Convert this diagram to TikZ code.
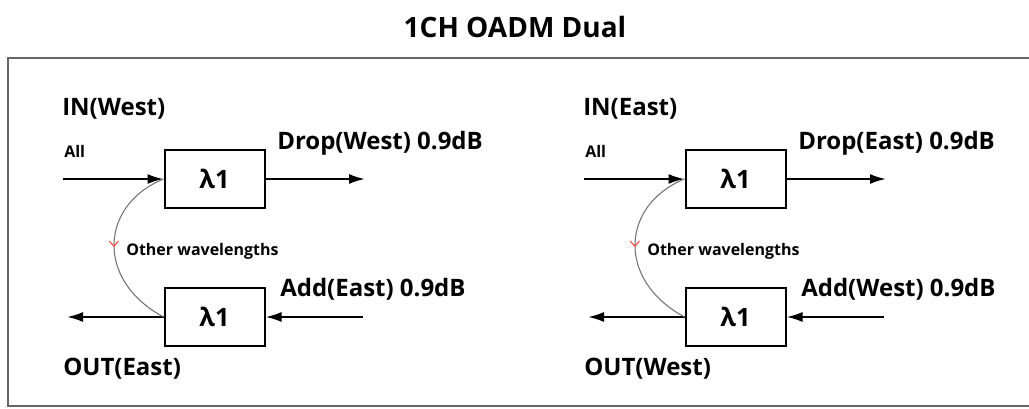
\documentclass[tikz,border=0pt]{standalone}
\usepackage{fontspec}
\setmainfont{Open Sans}
\usetikzlibrary{arrows.meta,decorations.markings}

\tikzset{
  fiber/.style={line width=1.5pt,-{Latex[length=12pt,width=7.5pt]}},
  filterbox/.style={draw,line width=1.5pt,minimum width=75pt,minimum height=44pt,
    inner sep=0pt,font=\fontsize{19}{21}\selectfont\bfseries},
  biglabel/.style={anchor=west,inner sep=0pt,font=\fontsize{18}{20}\selectfont\bfseries},
  smalllabel/.style={anchor=west,inner sep=0pt,font=\fontsize{12}{14}\selectfont\bfseries},
  bypass/.style={gray!90!black,line width=0.8pt,postaction={decorate},
    decoration={markings,mark=at position 0.5 with
      {\arrow{Straight Barb[color=red!70,length=4pt,width=7pt]}}}}
}

\begin{document}
\begin{tikzpicture}[x=0.75pt,y=-0.75pt]
  \useasboundingbox (0,0) rectangle (1029,409);
  % title and frame
  \node[font=\fontsize{21}{24}\selectfont\bfseries] (title) at (515,27) {1CH OADM Dual};
  \draw[gray!80!black,line width=1.8pt] (1035,58) -- (8,58) -- (8,406) -- (1035,406);
  % two mirrored panels
  \foreach \dx/\self/\peer in {0/West/East,521/East/West}{
    \begin{scope}[shift={(\dx,0)}]
      \node[filterbox] (demux\self) at (214.5,179) {λ1};
      \node[filterbox] (mux\self) at (214.5,317) {λ1};
      \coordinate (in\self) at (63,179);
      \coordinate (drop\self) at (365,179);
      \coordinate (out\self) at (67,317);
      \coordinate (add\self) at (363,317);
      \draw[fiber] (in\self) -- (demux\self.west);
      \draw[fiber] (demux\self.east) -- (drop\self);
      \draw[fiber] (mux\self.west) -- (out\self);
      \draw[fiber] (add\self) -- (mux\self.east);
      \draw[bypass] (demux\self.west) .. controls (100,205) and (95,280) .. (mux\self.west);
      \node[biglabel] (inlbl\self) at (62,109) {IN(\self)};
      \node[smalllabel] (all\self) at (64,151) {All};
      \node[biglabel] (droplbl\self) at (277,143) {Drop(\self) 0.9dB};
      \node[biglabel] (addlbl\self) at (280,289) {Add(\peer) 0.9dB};
      \node[biglabel] (outlbl\self) at (63,369) {OUT(\peer)};
      \node[smalllabel] (other\self) at (126,251) {Other wavelengths};
    \end{scope}
  }
\end{tikzpicture}
\end{document}
